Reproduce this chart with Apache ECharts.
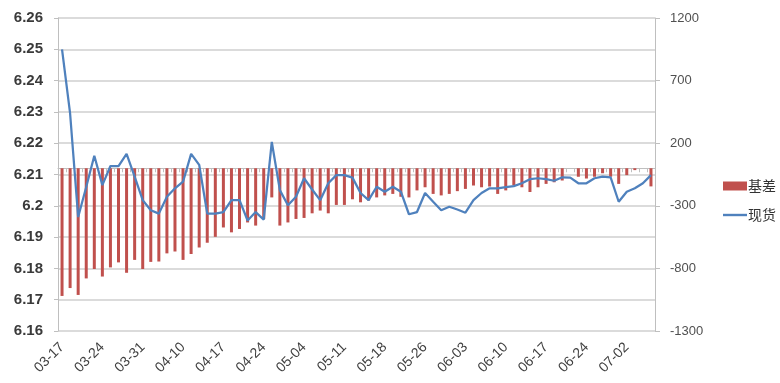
<!DOCTYPE html>
<html>
<head>
<meta charset="utf-8">
<script src="https://cdn.jsdelivr.net/npm/echarts@6/dist/echarts.min.js"></script>
<style>
  html, body { margin: 0; padding: 0; background: #ffffff; }
  #chart { width: 780px; height: 383px; }
</style>
</head>
<body>
<div id="chart"></div>
<script>
// Trading dates (MM-DD)
const dates = [
  '03-17','03-18','03-19','03-20','03-23','03-24','03-25','03-26','03-27','03-30',
  '03-31','04-01','04-02','04-03','04-09','04-10','04-13','04-14','04-15','04-16',
  '04-17','04-20','04-21','04-22','04-23','04-24','04-27','04-28','04-29','04-30',
  '05-04','05-05','05-06','05-07','05-08','05-11','05-12','05-13','05-14','05-15',
  '05-18','05-19','05-20','05-21','05-22','05-26','05-27','05-28','05-29','06-01',
  '06-03','06-04','06-05','06-08','06-09','06-10','06-11','06-12','06-15','06-16',
  '06-17','06-18','06-19','06-22','06-23','06-24','06-25','06-26','06-29','06-30',
  '07-02','07-03','07-06','07-07'
];

// 基差 (right axis)
const basis = [
  -1020, -957, -1012, -880, -805, -865, -792, -752, -835, -732,
  -805, -748, -745, -680, -665, -732, -685, -633, -595, -548,
  -473, -512, -485, -433, -458, -405, -233, -458, -433, -405,
  -397, -360, -338, -360, -293, -293, -248, -272, -258, -233,
  -217, -205, -228, -233, -177, -152, -205, -217, -205, -183,
  -165, -138, -152, -146, -205, -177, -138, -152, -190, -152,
  -125, -112, -98, 0, -68, -82, -68, -40, -68, -125,
  -55, -15, 0, -145
];

// 现货 (left axis)
const spot = [
  6.2500, 6.2295, 6.1964, 6.2060, 6.2160, 6.2066, 6.2127, 6.2127, 6.2166, 6.2093,
  6.2018, 6.1986, 6.1975, 6.2029, 6.2056, 6.2077, 6.2166, 6.2131, 6.1975, 6.1975,
  6.1980, 6.2018, 6.2018, 6.1953, 6.1980, 6.1956, 6.2204, 6.2050, 6.2002, 6.2029,
  6.2088, 6.2052, 6.2018, 6.2072, 6.2098, 6.2098, 6.2090, 6.2041, 6.2018, 6.2061,
  6.2045, 6.2061, 6.2045, 6.1973, 6.1980, 6.2041, 6.2013, 6.1986, 6.1997, 6.1988,
  6.1978, 6.2018, 6.2041, 6.2056, 6.2056, 6.2060, 6.2063, 6.2072, 6.2085, 6.2088,
  6.2085, 6.2080, 6.2091, 6.2090, 6.2072, 6.2072, 6.2088, 6.2093, 6.2091, 6.2013,
  6.2045, 6.2056, 6.2072, 6.2098
];

const leftTicks = { min: 6.16, max: 6.26, step: 0.01 };
const rightTicks = { min: -1300, max: 1200, step: 500 };

const FONT = "'Liberation Sans', Arial, 'Noto Sans CJK SC', sans-serif";
const AXIS_GRAY = '#bfbfbf';

const chart = echarts.init(document.getElementById('chart'), null, { renderer: 'canvas' });

chart.setOption({
  animation: false,
  backgroundColor: '#ffffff',
  grid: { left: 58, right: 125, top: 18, bottom: 52, containLabel: false },
  legend: {
    orient: 'vertical',
    left: 718,
    top: 174,
    itemWidth: 24,
    itemHeight: 9,
    itemGap: 15,
    textStyle: { fontFamily: "'Noto Sans CJK SC', sans-serif", fontSize: 14, color: '#333333', padding: [0, 0, 0, -4] },
    data: [
      { name: '基差', icon: 'rect' },
      { name: '现货', icon: 'path://M0,0 H24 V2.4 H0 Z' }
    ]
  },
  xAxis: {
    type: 'category',
    data: dates,
    boundaryGap: true,
    axisLine: { show: true, lineStyle: { color: AXIS_GRAY, width: 1 } },
    axisTick: { show: true, interval: 0, length: 4, inside: false, lineStyle: { color: AXIS_GRAY } },
    axisLabel: {
      interval: 4,
      rotate: 45,
      margin: 14,
      fontFamily: FONT,
      fontSize: 14,
      color: '#404040'
    },
    splitLine: { show: false }
  },
  yAxis: [
    {
      type: 'value',
      position: 'left',
      min: leftTicks.min,
      max: leftTicks.max,
      interval: leftTicks.step,
      axisLine: { show: true, lineStyle: { color: AXIS_GRAY } },
      axisTick: { show: true, length: 4, lineStyle: { color: AXIS_GRAY } },
      axisLabel: {
        margin: 15,
        fontFamily: FONT,
        fontSize: 15,
        fontWeight: 'bold',
        color: '#3a3a3a',
        formatter: v => String(parseFloat(v.toFixed(2)))
      },
      splitLine: { show: true, lineStyle: { color: '#cfcfcf', width: 1.5 } }
    },
    {
      type: 'value',
      position: 'right',
      min: rightTicks.min,
      max: rightTicks.max,
      interval: rightTicks.step,
      axisLine: { show: true, lineStyle: { color: AXIS_GRAY } },
      axisTick: { show: true, length: 5, lineStyle: { color: AXIS_GRAY } },
      axisLabel: {
        margin: 15,
        fontFamily: FONT,
        fontSize: 13,
        color: '#505050',
        formatter: v => String(v)
      },
      splitLine: { show: false }
    }
  ],
  series: [
    {
      name: '基差',
      type: 'bar',
      yAxisIndex: 1,
      data: basis,
      barWidth: 3,
      itemStyle: { color: '#c0504d' }
    },
    {
      name: '现货',
      type: 'line',
      yAxisIndex: 0,
      data: spot,
      symbol: 'none',
      smooth: false,
      itemStyle: { color: '#4f81bd' },
      lineStyle: { color: '#4f81bd', width: 2.25 },
      z: 3
    }
  ]
});
</script>
</body>
</html>
